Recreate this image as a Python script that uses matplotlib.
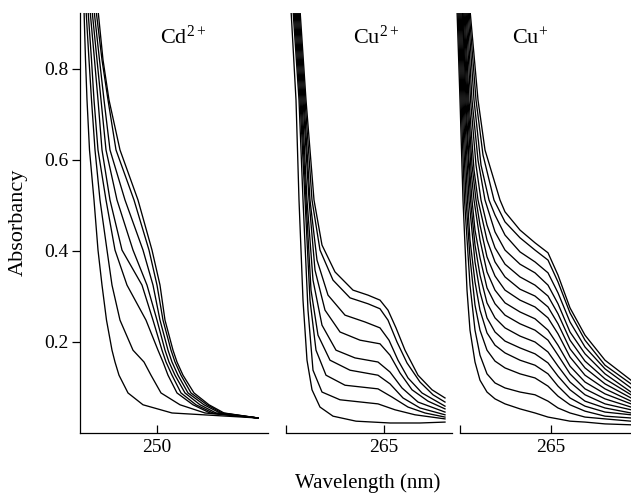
import matplotlib
matplotlib.use("Agg")
import matplotlib.pyplot as plt

# Cd2+ traces: absorbance levels and the wavelength (nm) where each trace crosses them
cd_levels = [0.93, 0.820, 0.732, 0.622, 0.512, 0.402, 0.325, 0.248, 0.182, 0.156,
             0.127, 0.088, 0.062, 0.044, 0.033]
cd_wavelengths = [
    [235.4, 235.7, 236.0, 236.5, 237.4, 238.2, 239.0, 239.9, 241.0, 241.6, 242.4, 244.2, 247.2, 253.0, 270.2],
    [235.8, 236.4, 236.9, 237.6, 238.6, 240.0, 241.0, 242.6, 245.2, 247.4, 248.8, 250.8, 254.6, 259.6, 270.2],
    [236.2, 236.9, 237.4, 238.2, 239.8, 241.6, 244.0, 247.8, 250.2, 251.2, 252.2, 254.0, 257.2, 260.6, 270.2],
    [236.6, 237.5, 238.2, 239.0, 240.6, 243.0, 247.0, 249.2, 251.0, 251.8, 253.0, 254.8, 257.8, 261.2, 270.2],
    [237.0, 238.0, 238.8, 239.8, 242.0, 245.2, 248.0, 250.0, 251.6, 252.4, 253.6, 255.6, 258.6, 261.8, 270.2],
    [237.4, 238.5, 239.4, 240.6, 243.6, 247.2, 249.2, 250.6, 252.2, 253.0, 254.2, 256.2, 259.4, 262.6, 270.2],
    [237.8, 239.0, 240.2, 241.8, 245.4, 248.4, 250.0, 251.2, 252.8, 253.6, 254.8, 256.8, 260.0, 263.0, 270.2],
    [238.2, 239.2, 240.4, 242.6, 246.2, 249.0, 250.6, 251.6, 253.2, 254.0, 255.2, 257.4, 260.4, 263.4, 270.2],
]

# Cu2+ traces, (wavelength nm, absorbance)
cu2_spectra = [
    [(246.4, 0.93), (247.4, 0.732), (248.0, 0.512), (248.8, 0.292), (249.6, 0.160), (250.6, 0.095),
     (252.2, 0.057), (254.8, 0.037), (259.4, 0.026), (266.2, 0.022), (272.2, 0.022), (277.2, 0.024)],
    [(246.8, 0.93), (248.0, 0.732), (248.8, 0.512), (249.8, 0.270), (250.8, 0.138), (252.6, 0.090),
     (256.2, 0.073), (263.8, 0.064), (267.2, 0.051), (271.2, 0.040), (277.2, 0.031)],
    [(247.0, 0.93), (248.2, 0.732), (249.2, 0.512), (250.2, 0.292), (251.4, 0.182), (253.4, 0.127),
     (257.2, 0.105), (263.8, 0.097), (266.6, 0.079), (269.8, 0.057), (273.2, 0.044), (277.2, 0.035)],
    [(247.2, 0.93), (248.4, 0.732), (249.4, 0.512), (250.4, 0.314), (251.8, 0.215), (254.2, 0.160),
     (258.2, 0.138), (263.8, 0.127), (266.2, 0.108), (268.8, 0.077), (272.2, 0.055), (277.2, 0.040)],
    [(247.4, 0.93), (248.6, 0.732), (249.6, 0.512), (250.8, 0.336), (252.6, 0.237), (255.4, 0.182),
     (259.2, 0.165), (263.8, 0.156), (266.2, 0.134), (268.6, 0.099), (271.8, 0.068), (277.2, 0.046)],
    [(247.6, 0.93), (248.8, 0.732), (250.0, 0.512), (251.2, 0.358), (253.2, 0.270), (256.2, 0.222),
     (260.2, 0.204), (264.2, 0.196), (266.2, 0.171), (268.2, 0.132), (270.6, 0.095), (273.8, 0.070), (277.2, 0.053)],
    [(247.8, 0.93), (249.0, 0.732), (250.2, 0.512), (251.6, 0.380), (253.8, 0.303), (257.2, 0.259),
     (261.2, 0.244), (264.2, 0.231), (266.0, 0.204), (267.8, 0.160), (269.8, 0.121), (272.6, 0.088), (277.2, 0.059)],
    [(248.0, 0.93), (249.2, 0.732), (250.6, 0.512), (252.2, 0.402), (254.8, 0.336), (258.2, 0.297),
     (261.8, 0.284), (264.2, 0.273), (265.8, 0.248), (267.6, 0.200), (269.6, 0.154), (272.2, 0.112),
     (274.8, 0.084), (277.2, 0.068)],
    [(248.2, 0.93), (249.4, 0.732), (251.0, 0.512), (252.6, 0.413), (255.2, 0.354), (258.8, 0.314),
     (261.8, 0.303), (264.2, 0.292), (265.8, 0.270), (267.4, 0.231), (269.2, 0.182), (271.8, 0.127),
     (274.6, 0.095), (277.2, 0.077)],
]

# Cu+ traces, (wavelength nm, absorbance)
cu1_spectra = [
    [(246.2, 0.93), (246.8, 0.732), (247.4, 0.512), (248.2, 0.314), (248.8, 0.226), (249.8, 0.156),
     (250.8, 0.116), (252.2, 0.090), (253.8, 0.075), (255.8, 0.064), (258.8, 0.053), (261.8, 0.044),
     (264.4, 0.035), (266.4, 0.031), (268.8, 0.026), (271.8, 0.024), (275.8, 0.020), (281.0, 0.018)],
    [(246.4, 0.93), (247.0, 0.732), (247.7, 0.512), (248.8, 0.325), (249.8, 0.226), (250.8, 0.171),
     (252.2, 0.130), (253.8, 0.110), (255.8, 0.099), (258.8, 0.090), (261.8, 0.084), (264.4, 0.070),
     (266.4, 0.055), (268.8, 0.044), (271.8, 0.035), (275.8, 0.031), (281.0, 0.026)],
    [(246.6, 0.93), (247.2, 0.732), (248.0, 0.512), (248.8, 0.385), (249.8, 0.281), (250.8, 0.226),
     (252.2, 0.182), (253.8, 0.158), (255.8, 0.143), (258.8, 0.130), (261.8, 0.121), (264.4, 0.103),
     (266.4, 0.081), (268.8, 0.062), (271.8, 0.048), (275.8, 0.037), (281.0, 0.033)],
    [(246.8, 0.93), (247.4, 0.732), (248.3, 0.512), (248.8, 0.424), (249.8, 0.332), (250.8, 0.270),
     (252.2, 0.220), (253.8, 0.193), (255.8, 0.176), (258.8, 0.160), (261.8, 0.149), (264.4, 0.130),
     (266.4, 0.103), (268.8, 0.077), (271.8, 0.059), (275.8, 0.046), (281.0, 0.040)],
    [(247.0, 0.93), (247.6, 0.732), (248.6, 0.512), (249.8, 0.376), (250.8, 0.310), (252.2, 0.253),
     (253.8, 0.222), (255.8, 0.202), (258.8, 0.187), (261.8, 0.174), (264.4, 0.154), (266.4, 0.125),
     (268.8, 0.095), (271.8, 0.070), (275.8, 0.055), (281.0, 0.044)],
    [(247.2, 0.93), (247.8, 0.732), (248.9, 0.512), (249.8, 0.413), (250.8, 0.347), (252.2, 0.286),
     (253.8, 0.253), (255.8, 0.231), (258.8, 0.213), (261.8, 0.200), (264.4, 0.178), (266.4, 0.147),
     (268.8, 0.112), (271.8, 0.084), (275.8, 0.064), (281.0, 0.051)],
    [(247.3, 0.93), (248.0, 0.732), (248.6, 0.600), (249.2, 0.512), (249.8, 0.446), (250.8, 0.385),
     (252.2, 0.319), (253.8, 0.284), (255.8, 0.259), (258.8, 0.240), (261.8, 0.226), (264.4, 0.204),
     (266.4, 0.171), (268.8, 0.130), (271.8, 0.097), (275.8, 0.075), (281.0, 0.057)],
    [(247.4, 0.93), (248.2, 0.732), (249.0, 0.578), (249.6, 0.512), (250.8, 0.424), (252.2, 0.354),
     (253.8, 0.314), (255.8, 0.286), (258.8, 0.266), (261.8, 0.251), (264.4, 0.226), (266.4, 0.193),
     (268.8, 0.147), (271.8, 0.112), (275.8, 0.086), (281.0, 0.064)],
    [(247.6, 0.93), (248.4, 0.732), (249.2, 0.589), (250.0, 0.512), (250.8, 0.457), (252.2, 0.387),
     (253.8, 0.345), (255.8, 0.314), (258.8, 0.292), (261.8, 0.277), (264.4, 0.253), (266.4, 0.218),
     (268.8, 0.167), (271.8, 0.127), (275.8, 0.097), (281.0, 0.070)],
    [(247.8, 0.93), (248.6, 0.732), (249.6, 0.578), (250.4, 0.512), (252.2, 0.424), (253.8, 0.376),
     (255.8, 0.343), (258.8, 0.316), (261.8, 0.301), (264.4, 0.277), (266.4, 0.240), (268.8, 0.185),
     (271.8, 0.143), (275.8, 0.108), (281.0, 0.077)],
    [(248.0, 0.93), (248.9, 0.732), (250.0, 0.589), (251.0, 0.512), (252.2, 0.457), (253.8, 0.407),
     (255.8, 0.371), (258.8, 0.343), (261.8, 0.325), (264.4, 0.301), (266.4, 0.262), (268.8, 0.204),
     (271.8, 0.158), (275.8, 0.119), (281.0, 0.084)],
    [(248.2, 0.93), (249.2, 0.732), (250.4, 0.600), (251.8, 0.512), (253.8, 0.442), (255.8, 0.402),
     (258.8, 0.371), (261.8, 0.352), (264.4, 0.325), (266.4, 0.284), (268.8, 0.222), (271.8, 0.174),
     (275.8, 0.130), (281.0, 0.090)],
    [(248.4, 0.93), (249.6, 0.732), (251.0, 0.589), (252.6, 0.512), (253.8, 0.479), (255.8, 0.435),
     (258.8, 0.398), (261.8, 0.376), (264.4, 0.352), (266.4, 0.308), (268.8, 0.244), (271.8, 0.189),
     (275.8, 0.141), (281.0, 0.099)],
    [(248.6, 0.93), (250.0, 0.732), (251.4, 0.611), (253.6, 0.512), (255.8, 0.464), (258.8, 0.429),
     (261.8, 0.402), (264.4, 0.380), (266.4, 0.332), (268.8, 0.264), (271.8, 0.204), (275.8, 0.149),
     (281.0, 0.108)],
    [(248.8, 0.93), (250.4, 0.732), (251.8, 0.622), (254.8, 0.512), (255.8, 0.486), (258.8, 0.446),
     (261.8, 0.418), (264.4, 0.396), (266.4, 0.347), (268.8, 0.275), (271.8, 0.215), (275.8, 0.160),
     (281.0, 0.116)],
]

panel_labels = ["Cd$^{2+}$", "Cu$^{2+}$", "Cu$^{+}$"]
y_ticks = [0.2, 0.4, 0.6, 0.8]

plt.rcParams["font.family"] = ["Liberation Serif", "DejaVu Serif"]
plt.rcParams["mathtext.fontset"] = "custom"
plt.rcParams["mathtext.rm"] = "Liberation Serif"
plt.rcParams["mathtext.it"] = "Liberation Serif:italic"
plt.rcParams["mathtext.default"] = "rm"

W, H = 631, 500
fig = plt.figure(figsize=(W / 100, H / 100), dpi=100)


def add_panel(x0, x1):
    return fig.add_axes([x0 / W, 1 - 433 / H, (x1 - x0) / W, 420 / H])


line_kw = dict(color="black", lw=0.95)
ax1 = add_panel(80, 268)
ax2 = add_panel(286, 452)
ax3 = add_panel(455, 631)

for wl in cd_wavelengths:
    ax1.plot(wl, cd_levels, **line_kw)
for spec in cu2_spectra:
    w, a = zip(*spec)
    ax2.plot(w, a, **line_kw)
for spec in cu1_spectra:
    w, a = zip(*spec)
    ax3.plot(w, a, **line_kw)

ax1.set_xlim(234.6, 272.2)
ax2.set_xlim(245.4, 278.6)
ax3.set_xlim(245.8, 281.0)

for ax in (ax1, ax2, ax3):
    ax.set_ylim(0, 0.923)
    ax.patch.set_visible(False)
    for side in ("top", "right"):
        ax.spines[side].set_visible(False)
    ax.spines["bottom"].set_linewidth(0.9)
    ax.tick_params(axis="x", direction="in", length=6, width=0.9,
                   labelsize=14, pad=4)

ax1.set_xticks([250], ["250"])
ax2.set_xticks([245.4, 265], ["", "265"])
ax3.set_xticks([246.8, 265], ["", "265"])
ax3.spines["bottom"].set_bounds(246.8, 281.0)

ax1.spines["left"].set_linewidth(0.9)
ax1.set_yticks(y_ticks, [f"{t:.1f}" for t in y_ticks])
ax1.tick_params(axis="y", direction="out", length=6, width=0.9,
                labelsize=14, pad=2)
for ax in (ax2, ax3):
    ax.spines["left"].set_visible(False)
    ax.set_yticks([])

for label, x in zip(panel_labels, (160, 353, 512)):
    fig.text(x / W, 1 - 44 / H, label, fontsize=16, ha="left", va="baseline")

fig.text(18 / W, 1 - 222 / H, "Absorbancy", rotation=90, fontsize=16,
         ha="center", va="center")
fig.text(368 / W, 1 - 483 / H, "Wavelength (nm)", fontsize=15,
         ha="center", va="center")

fig.savefig("out.png", dpi=100)
